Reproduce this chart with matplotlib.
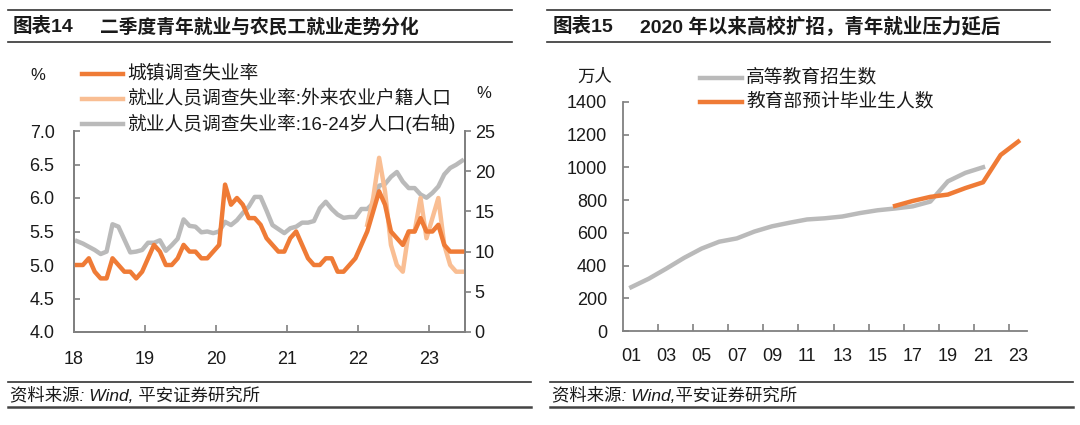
import matplotlib
matplotlib.use('Agg')
import matplotlib.pyplot as plt
from matplotlib.lines import Line2D
import numpy as np

plt.rcParams['font.family'] = ['Liberation Sans', 'Noto Sans CJK SC']

W, H = 1080, 425
nan = float('nan')

# ---------------- data: left chart (monthly, Jan 2018 - Jun 2023) ----------------
month_index = list(range(66))
urban_rate = [5.0, 5.0, 5.1, 4.9, 4.8, 4.8, 5.1, 5.0, 4.9, 4.9, 4.8, 4.9,
              5.1, 5.3, 5.2, 5.0, 5.0, 5.1, 5.3, 5.2, 5.2, 5.1, 5.1, 5.2,
              5.3, 6.2, 5.9, 6.0, 5.9, 5.7, 5.7, 5.6, 5.4, 5.3, 5.2, 5.2,
              5.4, 5.5, 5.3, 5.1, 5.0, 5.0, 5.1, 5.1, 4.9, 4.9, 5.0, 5.1,
              5.3, 5.5, 5.8, 6.1, 5.9, 5.5, 5.4, 5.3, 5.5, 5.5, 5.7, 5.5,
              5.5, 5.6, 5.3, 5.2, 5.2, 5.2]
migrant_rate = [nan] * 49 + [5.6, 6.0, 6.6, 6.1, 5.3, 5.0, 4.9, 5.5, 5.5, 6.0, 5.4,
                             5.7, 6.0, 5.3, 5.0, 4.9, 4.9]
youth_rate = [11.3, 11.0, 10.6, 10.2, 9.7, 10.0, 13.4, 13.1, 11.5, 9.9, 10.0, 10.2,
              11.1, 11.1, 11.4, 10.1, 10.8, 11.6, 14.0, 13.2, 13.1, 12.4, 12.5, 12.3,
              12.5, 13.7, 13.3, 13.9, 14.8, 15.6, 16.8, 16.8, 15.1, 13.3, 12.8, 12.3,
              12.9, 13.1, 13.6, 13.6, 13.8, 15.4, 16.2, 15.3, 14.6, 14.2, 14.3, 14.3,
              15.3, 15.3, 16.0, 18.2, 18.4, 19.3, 19.9, 18.7, 17.9, 17.9, 17.1, 16.7,
              17.3, 18.1, 19.6, 20.4, 20.8, 21.3]
year_tick_months = [0, 12, 24, 36, 48, 60]
year_tick_labels = ['18', '19', '20', '21', '22', '23']
left_yticks = [4.0, 4.5, 5.0, 5.5, 6.0, 6.5, 7.0]
right_yticks = [0, 5, 10, 15, 20, 25]
legend_left = ['城镇调查失业率', '就业人员调查失业率:外来农业户籍人口', '就业人员调查失业率:16-24岁人口(右轴)']

# ---------------- data: right chart (annual, 2001 - 2023) ----------------
year_labels2 = ['01', '02', '03', '04', '05', '06', '07', '08', '09', '10', '11', '12',
                '13', '14', '15', '16', '17', '18', '19', '20', '21', '22', '23']
enroll_years = year_labels2[:21]          # 2001-2021
enrollment = [268, 320, 382, 447, 504, 546, 566, 608, 640, 662, 682, 689,
              700, 721, 738, 749, 762, 791, 915, 967, 1001]
grad_years = year_labels2[15:]            # 2016-2023
graduates = [765, 795, 820, 834, 874, 909, 1076, 1158]
right_chart_yticks = [0, 200, 400, 600, 800, 1000, 1200, 1400]
legend_right = ['高等教育招生数', '教育部预计毕业生人数']

ORANGE = '#EF7B36'
LIGHT = '#F9BE93'
GRAY = '#BABABA'
SPINE = '#808080'
TXT = '#1a1a1a'

fig = plt.figure(figsize=(W / 100, H / 100), dpi=100)


def fx(px):
    return px / W


def fy(py):
    return 1 - py / H


def hline(x0, x1, y, lw=1.2, color='#333333'):
    fig.add_artist(Line2D([fx(x0), fx(x1)], [fy(y), fy(y)], color=color, lw=lw,
                          transform=fig.transFigure))


def rect(l, r, t, b):
    return [fx(l), fy(b), fx(r) - fx(l), fy(t) - fy(b)]


# ---------------- frame: titles & footers ----------------
hline(8, 512, 10)
hline(8, 512, 42)
hline(547, 1050, 10)
hline(547, 1050, 42)
fig.text(fx(13), fy(27), '图表14', fontsize=14, fontweight='bold', va='center', color=TXT)
fig.text(fx(100), fy(27), '二季度青年就业与农民工就业走势分化', fontsize=13.5, fontweight='bold',
         va='center', color=TXT)
fig.text(fx(553), fy(27), '图表15', fontsize=14, fontweight='bold', va='center', color=TXT)
fig.text(fx(640), fy(27), '2020 年以来高校扩招，青年就业压力延后', fontsize=14, fontweight='bold',
         va='center', color=TXT)

hline(8, 531, 382, lw=1.2)
hline(8, 531, 407, lw=1.8, color='#444444')
hline(550, 1073, 382, lw=1.2)
hline(550, 1073, 407, lw=1.8, color='#444444')
fig.text(fx(10), fy(395), '资料来源: Wind, 平安证券研究所', fontsize=12.5, style='italic',
         va='center', color=TXT)
fig.text(fx(552), fy(395), '资料来源: Wind,平安证券研究所', fontsize=12.5, style='italic',
         va='center', color=TXT)

# ---------------- left chart ----------------
ax = fig.add_axes(rect(74, 465, 131, 332))
ax2 = ax.twinx()
xs = [m + 0.5 for m in month_index]
ax2.plot(xs, youth_rate, color=GRAY, lw=3.2, solid_joinstyle='round', zorder=1)
ax.plot(xs, migrant_rate, color=LIGHT, lw=3.2, solid_joinstyle='round', zorder=2)
ax.plot(xs, urban_rate, color=ORANGE, lw=3.2, solid_joinstyle='round', zorder=3)
ax.set_zorder(ax2.get_zorder() + 1)
ax.patch.set_visible(False)

ax.set_xlim(0, 66)
ax.set_ylim(4.0, 7.0)
ax2.set_ylim(0, 25)
ax.set_xticks(year_tick_months)
ax.set_xticklabels(year_tick_labels)
ax.set_yticks(left_yticks)
ax.set_yticklabels([f'{v:.1f}' for v in left_yticks])
ax2.set_yticks(right_yticks)
for a in (ax, ax2):
    for s in a.spines.values():
        s.set_color(SPINE)
        s.set_linewidth(1.3)
    a.spines['top'].set_visible(False)
ax.tick_params(axis='x', direction='in', length=5, width=1.2, color=SPINE, labelsize=13,
               pad=13.5, labelcolor=TXT)
ax.tick_params(axis='y', direction='in', length=4, width=1.2, color=SPINE, labelsize=13,
               pad=14, labelcolor=TXT)
ax2.tick_params(axis='y', direction='out', length=4, width=1.2, color=SPINE, labelsize=13,
                pad=3, labelcolor=TXT)

fig.text(fx(38), fy(76), '%', fontsize=12, ha='center', va='center', color=TXT)
fig.text(fx(484), fy(93), '%', fontsize=12, ha='center', va='center', color=TXT)

leg_colors = [ORANGE, LIGHT, GRAY]
leg_y = [74, 99, 124]
for lab, c, y in zip(legend_left, leg_colors, leg_y):
    fig.add_artist(Line2D([fx(82), fx(123)], [fy(y), fy(y)], color=c, lw=3.2,
                          transform=fig.transFigure))
    fig.text(fx(127), fy(y), lab, fontsize=13.5, va='center', color=TXT)

# ---------------- right chart ----------------
bx = fig.add_axes(rect(622.5, 1027, 102, 331))
pos = {lab: i for i, lab in enumerate(year_labels2)}
bx.plot([pos[y] for y in enroll_years], enrollment, color=GRAY, lw=3.2, solid_joinstyle='round')
bx.plot([pos[y] for y in grad_years], graduates, color=ORANGE, lw=3.2, solid_joinstyle='round')
bx.set_xlim(-0.5, len(year_labels2) - 0.5)
bx.set_ylim(0, 1400)
bx.set_yticks(right_chart_yticks)
bx.set_xticks(list(range(0, len(year_labels2), 2)))
bx.set_xticklabels(year_labels2[::2])
bx.set_xticks([i + 0.5 for i in range(1, len(year_labels2) - 1, 2)], minor=True)
for s in bx.spines.values():
    s.set_color(SPINE)
    s.set_linewidth(1.3)
bx.spines['top'].set_visible(False)
bx.spines['right'].set_visible(False)
bx.tick_params(axis='x', which='major', length=0, labelsize=13, pad=12.5, labelcolor=TXT)
bx.tick_params(axis='x', which='minor', direction='in', length=5, width=1.2, color=SPINE)
bx.tick_params(axis='y', direction='in', length=4, width=1.2, color=SPINE, labelsize=13,
               pad=11, labelcolor=TXT)

fig.text(fx(595), fy(77), '万人', fontsize=12.5, ha='center', va='center', color=TXT)
for lab, c, y in zip(legend_right, [GRAY, ORANGE], [78, 102]):
    fig.add_artist(Line2D([fx(700), fx(742)], [fy(y), fy(y)], color=c, lw=3.2,
                          transform=fig.transFigure))
    fig.text(fx(746), fy(y), lab, fontsize=13.5, va='center', color=TXT)

fig.savefig('out.png', dpi=100)
